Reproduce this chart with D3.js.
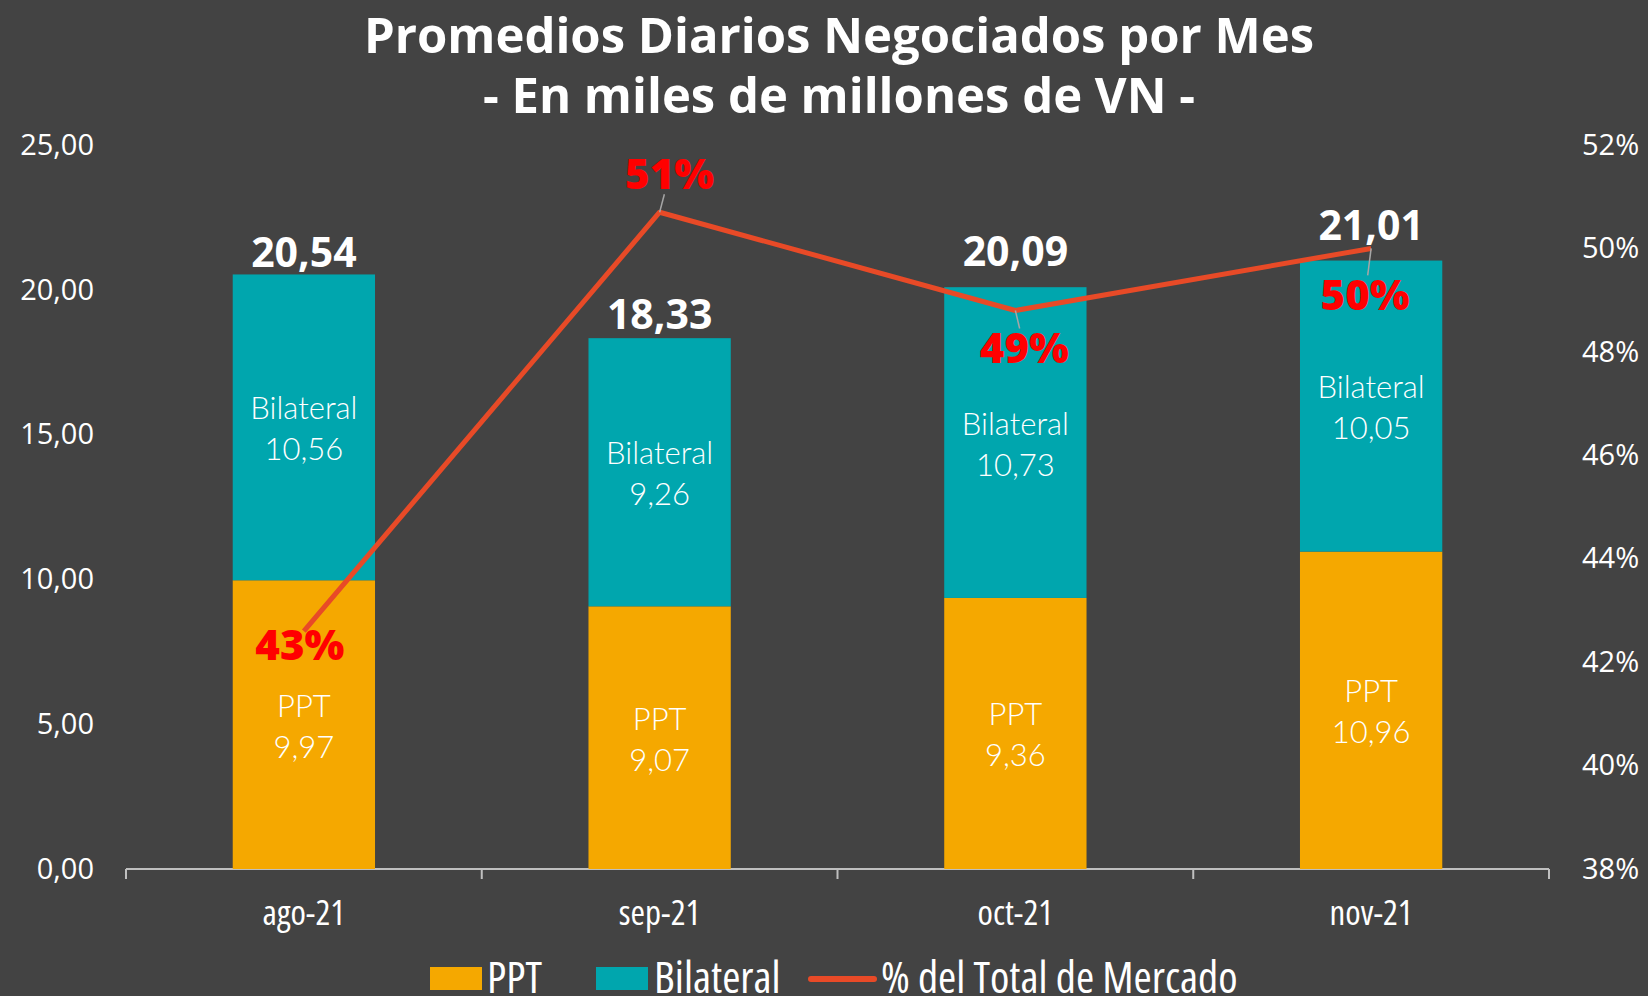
<!DOCTYPE html>
<meta charset="utf-8">
<head>
	<title>Promedios Diarios Negociados por Mes</title>
</head>

<style>

body {
	margin: 0;
	background-color: #434343;
}

svg {
	background-color: #434343;
	display: block;
}

.tick text {
	fill: #ffffff;
	font-family: "Open Sans", sans-serif;
	font-size: 29px;
}

.cond {
	font-family: "Open Sans", sans-serif;
	font-stretch: 75%;
	fill: #ffffff;
}

.seg {
	font-family: Lato, sans-serif;
	font-weight: 300;
	font-size: 31px;
	fill: #ffffff;
}

</style>

<body>

<svg class="chart" width="1648" height="996"></svg>

<script src="https://cdnjs.cloudflare.com/ajax/libs/d3/7.8.5/d3.min.js"></script>
<script>

// datos
var months = ['ago-21', 'sep-21', 'oct-21', 'nov-21'];
var ppt = [9.97, 9.07, 9.36, 10.96];
var bilateral = [10.56, 9.26, 10.73, 10.05];
var totals = [20.54, 18.33, 20.09, 21.01];
var share = [0.426, 0.507, 0.488, 0.500];
var shareLabels = ['43%', '51%', '49%', '50%'];
var leftTicks = [0, 5, 10, 15, 20, 25];
var rightTicks = [0.38, 0.40, 0.42, 0.44, 0.46, 0.48, 0.50, 0.52];

// ubicacion de etiquetas (px): centro del % respecto del punto, y base del total sobre la barra
var shareLabelOffset = [[-4, 14], [10, -38], [9, 38], [-6, 47]];
var totalLabelOffset = [-7, -9, -21, -21];

var colors = {ppt: '#F5A800', bilateral: '#00A6AE', line: '#E84A27', pct: '#FF0000'};

var svg = d3.select('.chart');

var es = d3.formatLocale({decimal: ',', thousands: '.', grouping: [3], currency: ['$', '']});
var fmt2 = es.format('.2f');

var x = d3.scaleBand()
	.domain(months)
	.range([126, 1549])
	.padding(0);

var y = d3.scaleLinear()
	.domain([0, 25])
	.range([869, 145]);

var y2 = d3.scaleLinear()
	.domain([0.38, 0.52])
	.range([869, 145]);

var barW = x.bandwidth() * 0.4;
function cx(i) { return x(months[i]) + x.bandwidth() / 2; }

// titulo
var titles = ['Promedios Diarios Negociados por Mes', '- En miles de millones de VN -'];
svg.selectAll('.title')
	.data(titles)
	.enter()
	.append('text')
	.attr('x', 839)
	.attr('y', function(d, i) { return 53 + i * 60; })
	.attr('text-anchor', 'middle')
	.style('font-family', '"Open Sans", sans-serif')
	.style('font-weight', 700)
	.style('font-size', '49px')
	.style('fill', '#fff')
	.text(function(d) { return d; });

// ejes
svg.append('g')
	.attr('transform', 'translate(100,0)')
	.call(d3.axisLeft(y).tickValues(leftTicks).tickSize(0).tickPadding(6).tickFormat(fmt2))
	.call(function(g) { g.select('.domain').remove(); });

svg.append('g')
	.attr('transform', 'translate(1576,0)')
	.call(d3.axisRight(y2).tickValues(rightTicks).tickSize(0).tickPadding(6).tickFormat(d3.format('.0%')))
	.call(function(g) { g.select('.domain').remove(); });

var xAxis = svg.append('g')
	.attr('transform', 'translate(0,869)');

xAxis.append('line')
	.attr('x1', x.range()[0]).attr('x2', x.range()[1])
	.attr('stroke', '#bfbfbf').attr('stroke-width', 2);

xAxis.selectAll('.xtick')
	.data(months.concat(['end']))
	.enter()
	.append('line')
	.attr('x1', function(d, i) { return x.range()[0] + i * x.step(); })
	.attr('x2', function(d, i) { return x.range()[0] + i * x.step(); })
	.attr('y1', 0).attr('y2', 10)
	.attr('stroke', '#bfbfbf').attr('stroke-width', 2);

xAxis.selectAll('.xlabel')
	.data(months)
	.enter()
	.append('text')
	.attr('class', 'cond')
	.attr('x', function(d, i) { return cx(i); })
	.attr('y', 56)
	.attr('text-anchor', 'middle')
	.style('font-size', '35px')
	.text(function(d) { return d; });

// barras apiladas
var rows = months.map(function(m, i) {
	return {month: m, ppt: ppt[i], bilateral: bilateral[i]};
});

var stack = d3.stack().keys(['ppt', 'bilateral']);
var series = stack(rows);

var layers = svg.selectAll('.serie')
	.data(series)
	.enter()
	.append('g')
	.attr('class', 'serie')
	.style('fill', function(d) { return colors[d.key]; });

layers.selectAll('rect')
	.data(function(d) { return d; })
	.enter()
	.append('rect')
	.attr('x', function(d) { return x(d.data.month) + (x.bandwidth() - barW) / 2; })
	.attr('width', barW)
	.attr('y', function(d) { return y(d[1]); })
	.attr('height', function(d) { return y(d[0]) - y(d[1]); });

var names = {ppt: 'PPT', bilateral: 'Bilateral'};

layers.each(function(s) {
	var lbl = d3.select(this).selectAll('.seglabel')
		.data(s)
		.enter()
		.append('text')
		.attr('class', 'seg')
		.attr('text-anchor', 'middle')
		.attr('transform', function(d) {
			return 'translate(' + (x(d.data.month) + x.bandwidth() / 2) + ',' + y((d[0] + d[1]) / 2) + ')';
		});
	lbl.append('tspan').attr('x', 0).attr('y', -8).text(names[s.key]);
	lbl.append('tspan').attr('x', 0).attr('y', 33).text(function(d) { return fmt2(d.data[s.key]); });
});

// totales
svg.selectAll('.total')
	.data(totals)
	.enter()
	.append('text')
	.attr('x', function(d, i) { return cx(i); })
	.attr('y', function(d, i) { return y(d) + totalLabelOffset[i]; })
	.attr('text-anchor', 'middle')
	.style('font-family', '"Open Sans", sans-serif')
	.style('font-weight', 700)
	.style('font-size', '41px')
	.style('fill', '#fff')
	.text(function(d) { return fmt2(d); });

// linea de % del total
var line = d3.line()
	.x(function(d, i) { return cx(i); })
	.y(function(d) { return y2(d); });

svg.append('path')
	.datum(share)
	.attr('d', line)
	.attr('fill', 'none')
	.attr('stroke', colors.line)
	.attr('stroke-width', 5)
	.attr('stroke-linejoin', 'round');

// lineas guia (no para ago-21)
svg.selectAll('.leader')
	.data(share.slice(1))
	.enter()
	.append('line')
	.attr('x1', function(d, i) { return cx(i + 1); })
	.attr('y1', function(d) { return y2(d); })
	.attr('x2', function(d, i) {
		var o = shareLabelOffset[i + 1];
		var k = (Math.abs(o[1]) - 20) / Math.abs(o[1]);
		return cx(i + 1) + o[0] * k;
	})
	.attr('y2', function(d, i) {
		var o = shareLabelOffset[i + 1];
		return y2(d) + o[1] - (o[1] > 0 ? 20 : -20);
	})
	.attr('stroke', '#a6a6a6')
	.attr('stroke-width', 1.5);

svg.selectAll('.pct')
	.data(share)
	.enter()
	.append('text')
	.attr('x', function(d, i) { return cx(i) + shareLabelOffset[i][0]; })
	.attr('y', function(d, i) { return y2(d) + shareLabelOffset[i][1] + 15; })
	.attr('text-anchor', 'middle')
	.style('font-family', '"Open Sans", sans-serif')
	.style('font-weight', 800)
	.style('font-size', '42px')
	.style('fill', colors.pct)
	.text(function(d, i) { return shareLabels[i]; });

// leyenda
var legend = svg.append('g');

legend.append('rect').attr('x', 430).attr('y', 967).attr('width', 52).attr('height', 23).style('fill', colors.ppt);
legend.append('text').attr('class', 'cond').attr('x', 487).attr('y', 993)
	.style('font-size', '44px').text('PPT');

legend.append('rect').attr('x', 596).attr('y', 967).attr('width', 52).attr('height', 23).style('fill', colors.bilateral);
legend.append('text').attr('class', 'cond').attr('x', 654).attr('y', 993)
	.style('font-size', '44px').text('Bilateral');

legend.append('line').attr('x1', 811).attr('x2', 874).attr('y1', 979).attr('y2', 979)
	.attr('stroke', colors.line).attr('stroke-width', 6).attr('stroke-linecap', 'round');
legend.append('text').attr('class', 'cond').attr('x', 881).attr('y', 993)
	.style('font-size', '44px').text('% del Total de Mercado');

</script>

</body>
</html>
